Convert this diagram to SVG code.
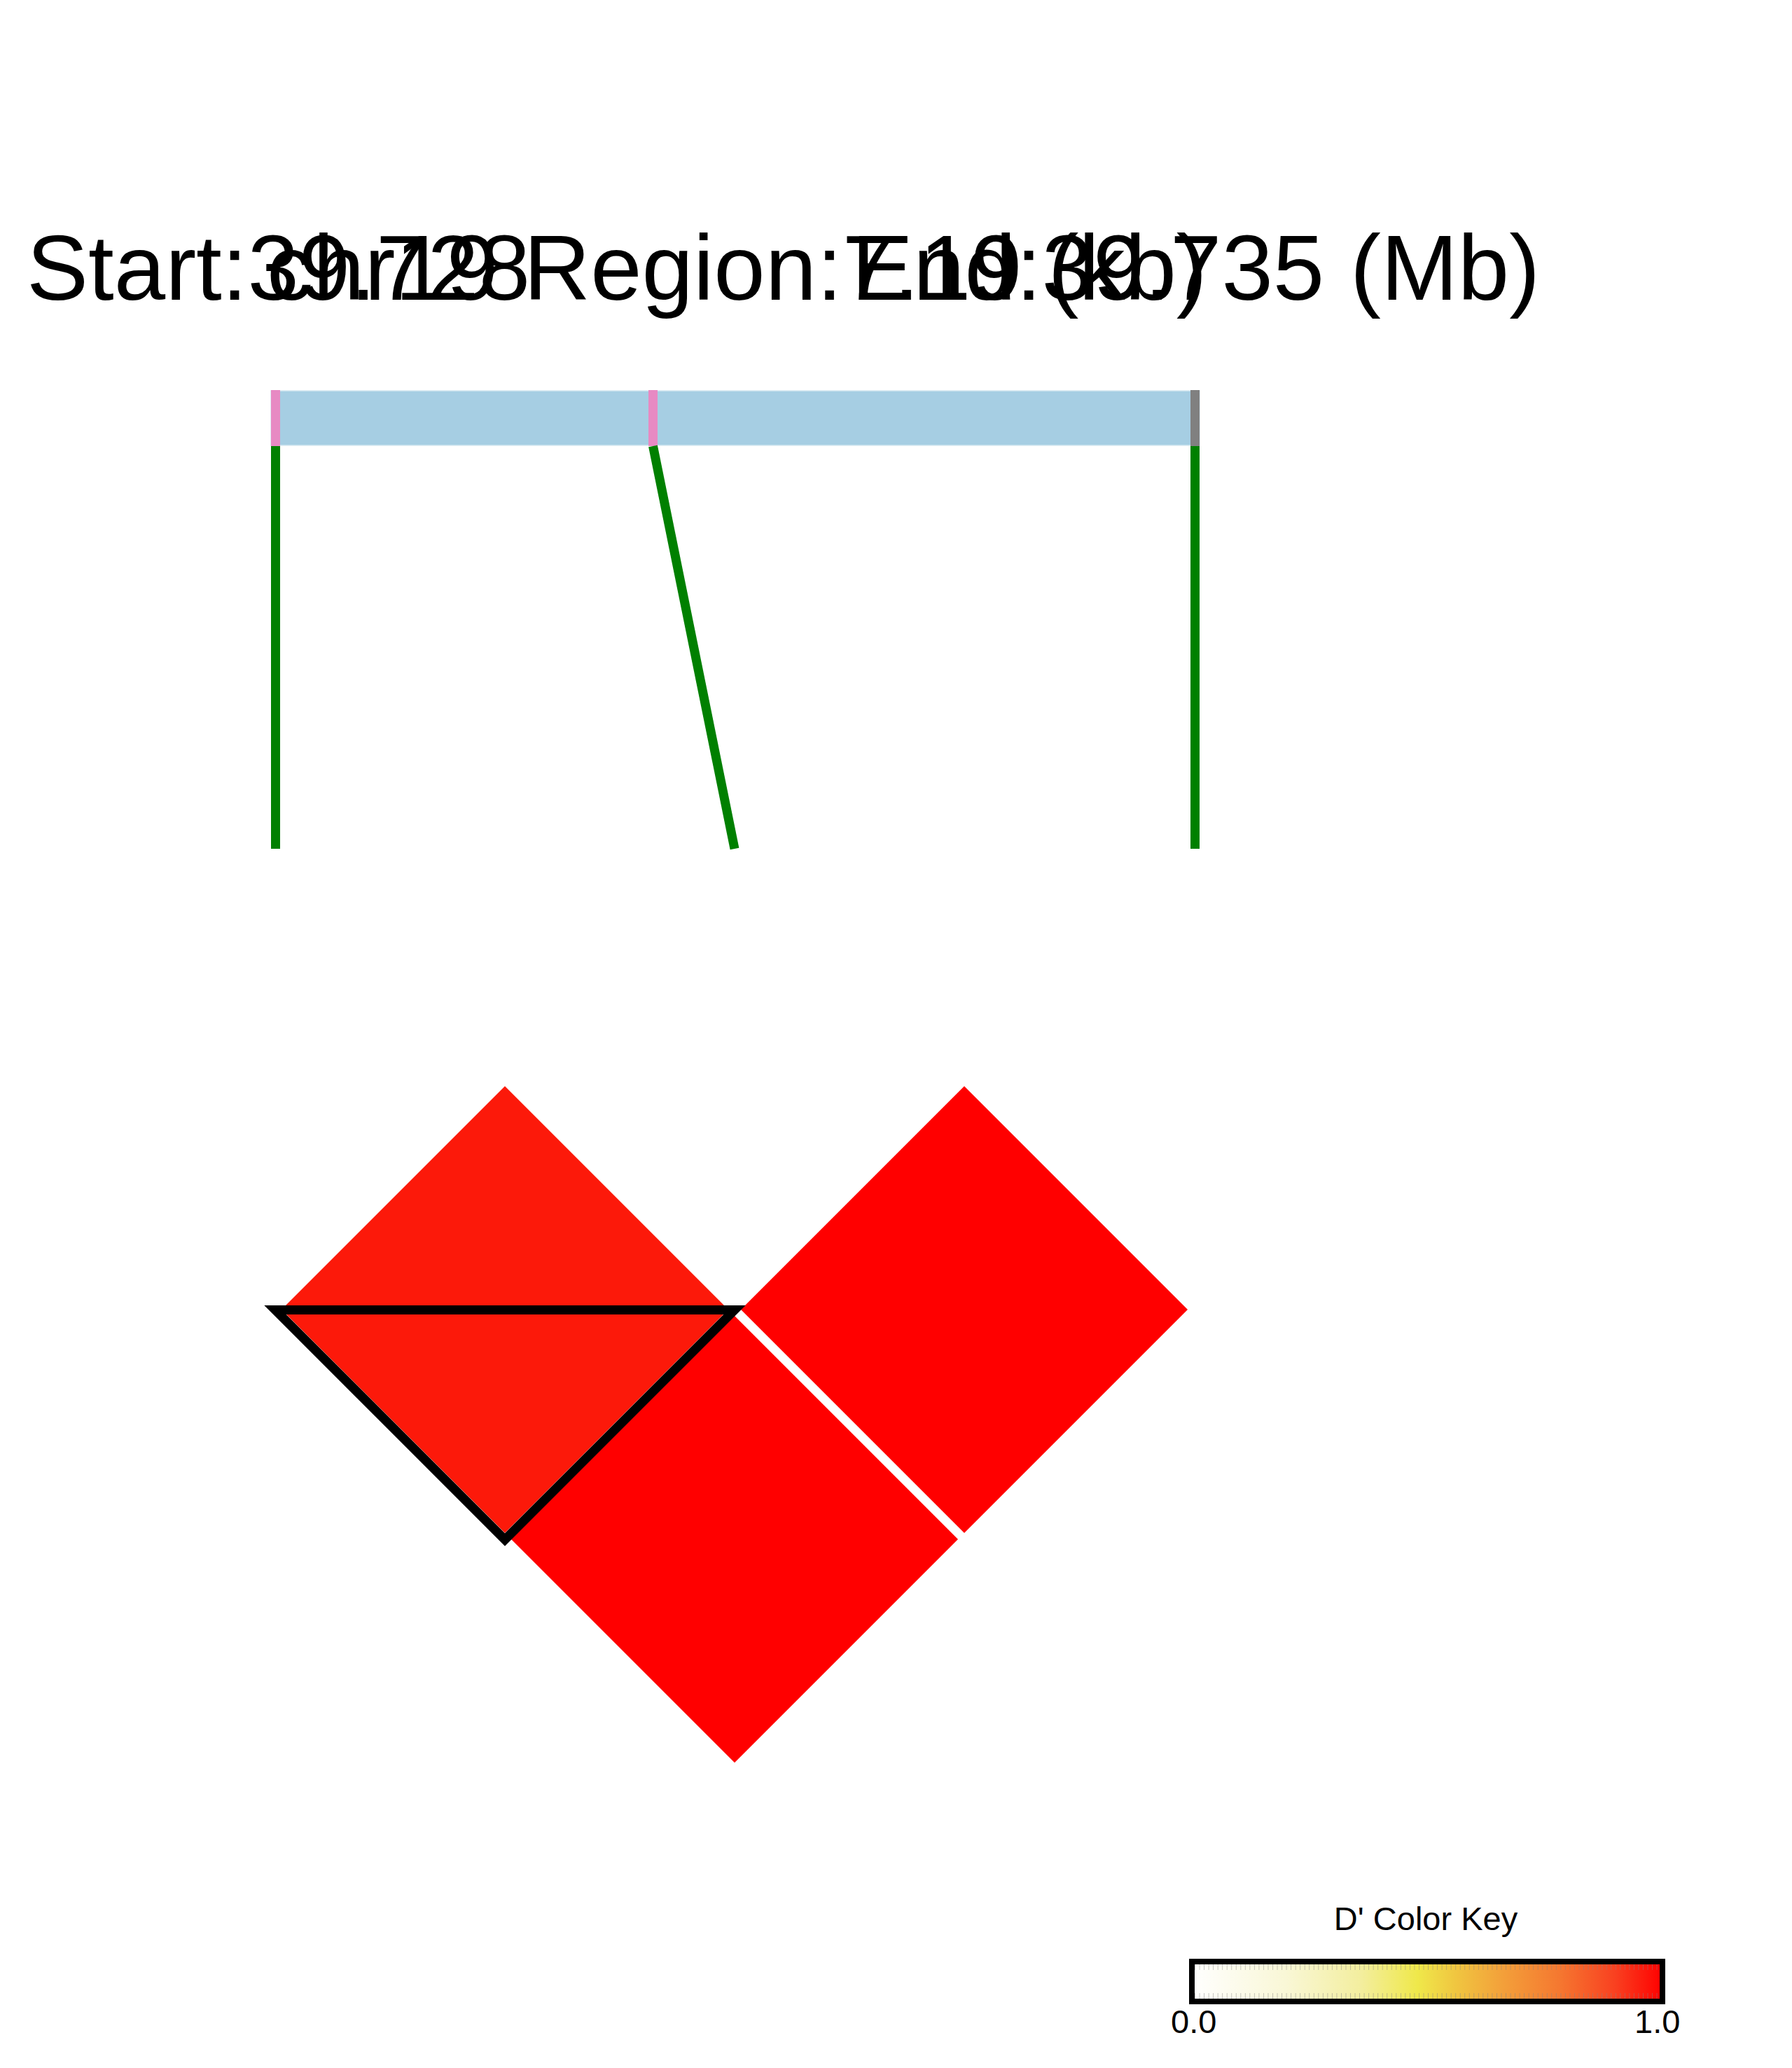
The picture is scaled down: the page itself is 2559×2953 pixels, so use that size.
<svg xmlns="http://www.w3.org/2000/svg" width="2559" height="2953" viewBox="0 0 2559 2953">
<style>
.title{font-family:"Liberation Sans",Arial,sans-serif;font-size:132px;fill:#000}
.key{font-family:"Liberation Sans",Arial,sans-serif;font-size:47px;fill:#000}
.conn{stroke:#008000;stroke-width:13;fill:none}
.tick{stroke:none}
.cell{stroke:none}
</style>
<defs>
<linearGradient id="ramp" x1="0" y1="0" x2="1" y2="0">
<stop offset="0" stop-color="#FFFFFF"/>
<stop offset="0.2" stop-color="#F9F7D6"/>
<stop offset="0.36" stop-color="#F3EE9E"/>
<stop offset="0.48" stop-color="#EFE84A"/>
<stop offset="0.56" stop-color="#F0C640"/>
<stop offset="0.66" stop-color="#F3A03A"/>
<stop offset="0.78" stop-color="#F57830"/>
<stop offset="0.9" stop-color="#F94020"/>
<stop offset="1" stop-color="#FF0000"/>
</linearGradient>
<pattern id="ticks" x="1706" y="0" width="6.53" height="10" patternUnits="userSpaceOnUse">
<rect x="0" y="0" width="1" height="10" fill="#808080" fill-opacity="0.45"/>
</pattern>
</defs>
<rect width="2559" height="2953" fill="#FFFFFF"/>
<g id="titles">
<text class="title" x="38" y="428">Start:39.728</text>
<text class="title" x="381" y="428">chr19 Region:7.19 (kb)</text>
<text class="title" x="1216" y="428">End:39.735 (Mb)</text>
</g>
<g id="gene-bar">
<rect x="387" y="558" width="1326" height="78" fill="#A6CEE3" stroke="#D5E8F1" stroke-width="1.5"/>
<rect class="tick" x="387" y="557" width="13" height="80" fill="#E78AC3"/>
<rect class="tick" x="926" y="557" width="13" height="80" fill="#E78AC3"/>
<rect class="tick" x="1700" y="557" width="13" height="80" fill="#808080"/>
</g>
<g id="connectors">
<line class="conn" x1="393.5" y1="637" x2="393.5" y2="1212"/>
<line class="conn" x1="932.5" y1="637" x2="1049" y2="1212"/>
<line class="conn" x1="1706.5" y1="637" x2="1706.5" y2="1212"/>
</g>
<g id="cell-1-2">
<polygon class="cell" points="721,1551 1040,1870 721,2189 402,1870" fill="#FC190A"/>
</g>
<g id="cell-2-3">
<polygon class="cell" points="1377,1551 1696,1870 1377,2189 1058,1870" fill="#FF0000"/>
</g>
<g id="cell-1-3">
<polygon class="cell" points="1049,1879 1368,2198 1049,2517 730,2198" fill="#FF0000"/>
</g>
<g id="block">
<polygon points="393,1870.5 1049,1870.5 721,2198.5" fill="none" stroke="#000" stroke-width="13" stroke-miterlimit="10"/>
</g>
<g id="color-key">
<text class="key" x="2036" y="2756" text-anchor="middle">D' Color Key</text>
<rect x="1702" y="2801" width="672" height="57" fill="url(#ramp)"/>
<rect x="1706" y="2805" width="664" height="8" fill="url(#ticks)"/>
<rect x="1706" y="2846" width="664" height="8" fill="url(#ticks)"/>
<rect x="1702" y="2801" width="672" height="57" fill="none" stroke="#000" stroke-width="8"/>
<text class="key" x="1672" y="2903">0.0</text>
<text class="key" x="2334" y="2903">1.0</text>
</g>
</svg>
